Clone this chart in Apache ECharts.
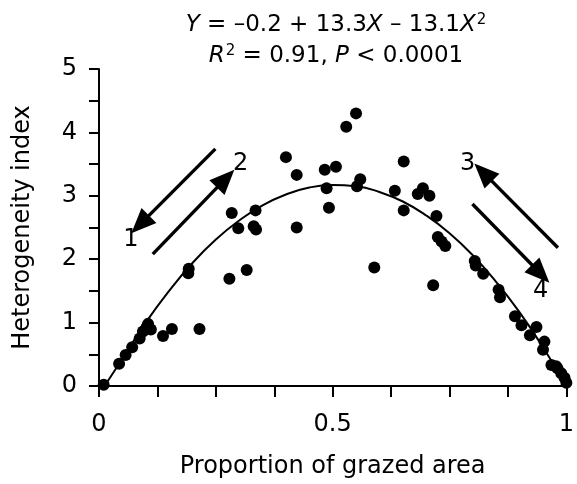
<!DOCTYPE html>
<html>
<head>
<meta charset="utf-8">
<script src="https://cdn.jsdelivr.net/npm/echarts@6/dist/echarts.min.js"></script>
<style>html,body{margin:0;padding:0;background:#fff}#c{width:577px;height:484px}</style>
</head>
<body>
<div id="c"></div>
<script>
// Observed data points (proportion of grazed area, heterogeneity index)
var pointX = [0.010,0.043,0.057,0.071,0.087,0.094,0.102,0.105,0.111,0.137,0.156,0.215,0.191,0.192,0.279,0.316,0.284,0.298,0.335,0.331,0.336,0.400,0.423,0.423,0.483,0.507,0.487,0.492,0.529,0.550,0.559,0.552,0.589,0.652,0.633,0.652,0.693,0.682,0.707,0.722,0.725,0.733,0.741,0.715,0.804,0.806,0.822,0.855,0.858,0.890,0.904,0.922,0.936,0.953,0.950,0.968,0.978,0.981,0.989,0.996,1.000];
var pointY = [0.02,0.35,0.49,0.61,0.75,0.86,0.93,0.98,0.89,0.79,0.90,0.90,1.78,1.85,1.69,1.83,2.73,2.49,2.77,2.52,2.47,3.61,3.33,2.50,3.41,3.46,3.12,2.81,4.09,4.30,3.26,3.15,1.87,3.54,3.08,2.77,3.12,3.03,3.00,2.68,2.35,2.28,2.21,1.59,1.97,1.90,1.77,1.52,1.40,1.10,0.96,0.80,0.93,0.70,0.57,0.33,0.31,0.28,0.20,0.13,0.05];
// Fitted curve
var curveX = [0.012,0.05,0.10,0.15,0.20,0.25,0.30,0.35,0.40,0.45,0.50,0.55,0.60,0.65,0.70,0.75,0.80,0.85,0.90,0.95,1.00];
var curveY = [0.00,0.43,1.00,1.50,1.94,2.31,2.61,2.85,3.02,3.13,3.17,3.15,3.06,2.91,2.69,2.41,2.06,1.64,1.16,0.61,0.00];
// Arrow annotations (tail -> head)
var arrowFrom = [[0.249,3.74],[0.115,2.08],[0.982,2.18],[0.799,2.87]];
var arrowTo   = [[0.088,2.55],[0.271,3.27],[0.822,3.37],[0.945,1.77]];
var labelText = ['1','2','3','4'];
var labelX = [0.068,0.303,0.789,0.945];
var labelY = [2.30,3.50,3.50,1.51];
// Axis tick labels
var xTickLabels = {'0':'0','0.5':'0.5','1':'1'};
var yTickLabels = ['0','1','2','3','4','5'];

var FONT = '"DejaVu Sans", "Liberation Sans", Arial, sans-serif';
var FS = 24;
var chart = echarts.init(document.getElementById('c'), null, {renderer:'canvas'});

var pts = pointX.map(function(x,i){return [x,pointY[i]];});
var crv = curveX.map(function(x,i){return [x,curveY[i]];});
var lbl = labelX.map(function(x,i){return {value:[x,labelY[i]], name:labelText[i]};});
var arrows = arrowFrom.map(function(f,i){
  return [{coord:f, symbol:'none'},{coord:arrowTo[i], symbol:'triangle', symbolSize:[21,25]}];
});

chart.setOption({
  backgroundColor:'#fff',
  animation:false,
  textStyle:{fontFamily:FONT,color:'#000'},
  grid:{left:99,right:5,top:69,bottom:98,containLabel:false},
  graphic:[{
    type:'text', x:336, y:10,
    style:{
      text:'{i|Y} = –0.2 + 13.3{i|X} – 13.1{i|X}{s|2}\n{i|R}{s|2} = 0.91, {i|P} < 0.0001',
      align:'center', fontFamily:FONT, fontSize:23, lineHeight:31, fill:'#000',
      rich:{
        i:{fontStyle:'italic',fontFamily:FONT,fontSize:23,lineHeight:31,fill:'#000'},
        s:{fontFamily:FONT,fontSize:15,lineHeight:15,verticalAlign:'top',padding:[3,0,0,1],fill:'#000'}
      }
    }
  }],
  xAxis:{
    type:'value', min:0, max:1, interval:0.125,
    name:'Proportion of grazed area', nameLocation:'middle', nameGap:69,
    nameTextStyle:{fontSize:FS,color:'#000',fontFamily:FONT},
    axisLine:{show:true,onZero:false,lineStyle:{color:'#000',width:2}},
    axisTick:{show:true,inside:false,length:11,lineStyle:{color:'#000',width:2}},
    axisLabel:{fontSize:FS,color:'#000',margin:27,fontFamily:FONT,showMaxLabel:true,showMinLabel:true,
      formatter:function(v){var k=String(+v.toFixed(3));return xTickLabels[k]!==undefined?xTickLabels[k]:'';}},
    splitLine:{show:false}
  },
  yAxis:{
    type:'value', min:0, max:5, interval:0.5,
    name:'Heterogeneity index', nameLocation:'middle', nameGap:64,
    nameTextStyle:{fontSize:FS,color:'#000',fontFamily:FONT},
    axisLine:{show:true,onZero:false,lineStyle:{color:'#000',width:2}},
    axisTick:{show:true,inside:false,length:10,lineStyle:{color:'#000',width:2}},
    axisLabel:{fontSize:FS,color:'#000',margin:22,fontFamily:FONT,
      formatter:function(v){return Math.abs(v-Math.round(v))<1e-6?yTickLabels[Math.round(v)]:'';}},
    splitLine:{show:false}
  },
  series:[
    {type:'line', data:crv, smooth:true, symbol:'none', lineStyle:{color:'#000',width:2}, z:2,
     markLine:{silent:true, animation:false, label:{show:false},
       lineStyle:{color:'#000',width:3.4,type:'solid',opacity:1}, data:arrows}},
    {type:'scatter', data:pts, symbol:'circle', symbolSize:12, itemStyle:{color:'#000',opacity:1}, z:3},
    {type:'scatter', data:lbl, symbolSize:0, z:4, itemStyle:{opacity:1},
     label:{show:true, position:'inside', formatter:function(p){return p.name;}, fontSize:FS, color:'#000', fontFamily:FONT, opacity:1}}
  ]
});
</script>
</body>
</html>
